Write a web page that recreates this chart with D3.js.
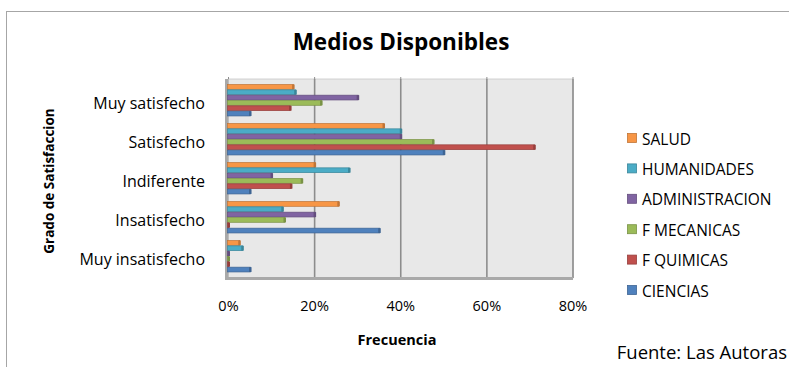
<!DOCTYPE html>
<html><head><meta charset="utf-8">
<script src="https://cdn.jsdelivr.net/npm/d3@7/dist/d3.min.js"></script>
<style>
body{margin:0;background:#fff;}
svg{display:block;font-family:"Open Sans",Lato,sans-serif;}
</style></head>
<body>
<script>
const categories = ["Muy satisfecho","Satisfecho","Indiferente","Insatisfecho","Muy insatisfecho"];
const seriesNames = ["SALUD","HUMANIDADES","ADMINISTRACION","F MECANICAS","F QUIMICAS","CIENCIAS"];
const seriesColors = ["#f79646","#4bacc6","#8064a2","#9bbb59","#c0504d","#4f81bd"];
// values per series, in order of categories (fractions)
const salud        = [0.15, 0.36, 0.20, 0.255, 0.025];
const humanidades  = [0.155,0.40, 0.28, 0.125, 0.032];
const administracion=[0.30, 0.40, 0.10, 0.20, 0.0];
const fMecanicas   = [0.215,0.475,0.17, 0.13, 0.0];
const fQuimicas    = [0.143,0.71, 0.145,0.0,  0.0];
const ciencias     = [0.05, 0.50, 0.05, 0.35, 0.05];
const seriesValues = [salud, humanidades, administracion, fMecanicas, fQuimicas, ciencias];
const xTicks = [0, 0.2, 0.4, 0.6, 0.8];

const W = 789, H = 367;
const svg = d3.select("body").append("svg").attr("width", W).attr("height", H);

// outer chart frame
svg.append("rect").attr("x",6.5).attr("y",11.5).attr("width",W).attr("height",H)
  .attr("fill","#fff").attr("stroke","#a6a6a6").attr("stroke-width",1);

// title
svg.append("text").attr("x",401).attr("y",50).attr("text-anchor","middle")
  .attr("font-size",22.5).attr("font-weight","bold").attr("fill","#000").text("Medios Disponibles");

const plotTop = 79, plotBottom = 278;
const x = d3.scaleLinear().domain([0,0.8]).range([228.5,573]);
const y = d3.scaleBand().domain(categories).range([81,276]).paddingInner(0.18).paddingOuter(0.09);
const yi = d3.scaleBand().domain(seriesNames).range([0,y.bandwidth()]).padding(0);

// back wall
svg.append("rect").attr("x",x(0)).attr("y",plotTop).attr("width",x(0.8)-x(0)).attr("height",plotBottom-plotTop)
  .attr("fill","#e8e8e8").attr("stroke","#c8c8c8").attr("stroke-width",0.8);
// gridlines
svg.append("g").selectAll("line").data(xTicks.slice(1)).join("line")
  .attr("x1",d=>x(d)).attr("x2",d=>x(d)).attr("y1",plotTop).attr("y2",plotBottom)
  .attr("stroke","#8c8c8c").attr("stroke-width",1.6);
// small ticks at top
svg.append("g").selectAll("line").data(xTicks).join("line")
  .attr("x1",d=>x(d)).attr("x2",d=>x(d)).attr("y1",plotTop-2).attr("y2",plotTop)
  .attr("stroke","#8c8c8c").attr("stroke-width",1);
// left wall
svg.append("rect").attr("x",x(0)-3.5).attr("y",plotTop).attr("width",3.5).attr("height",plotBottom-plotTop+1)
  .attr("fill","#a9a9a9");
// floor
svg.append("rect").attr("x",x(0)-3.5).attr("y",plotBottom-1).attr("width",x(0.8)-x(0)+3.5).attr("height",3)
  .attr("fill","#a9a9a9");

// bars
const darker = c => d3.color(c).darker(0.7).formatHex();
const groups = svg.append("g").selectAll("g").data(seriesNames).join("g");
groups.each(function(s, si){
  const g = d3.select(this);
  const vals = seriesValues[si];
  const col = seriesColors[si];
  const data = categories.map((c,ci)=>({c, v: vals[ci]}));
  const h = yi.bandwidth()*0.9;
  g.selectAll("rect.bar").data(data).join("rect").attr("class","bar")
    .attr("x",x(0)-1).attr("y",d=>y(d.c)+yi(s))
    .attr("width",d=>Math.max(0,x(d.v)-x(0))+1.5).attr("height",h)
    .attr("fill",col).attr("stroke",darker(col)).attr("stroke-width",0.7);
  g.selectAll("rect.cap").data(data).join("rect").attr("class","cap")
    .attr("x",d=>x(d.v)-1).attr("y",d=>y(d.c)+yi(s))
    .attr("width",2.5).attr("height",h)
    .attr("fill",darker(col));
});

// category labels
svg.append("g").selectAll("text").data(categories).join("text")
  .attr("x",205).attr("y",d=>y(d)+y.bandwidth()/2+2.5).attr("dominant-baseline","central")
  .attr("text-anchor","end")
  .attr("font-size",16).attr("fill","#000").text(d=>d);

// x tick labels
svg.append("g").selectAll("text").data(xTicks).join("text")
  .attr("x",d=>x(d)).attr("y",305).attr("dominant-baseline","central").attr("text-anchor","middle")
  .attr("font-size",14.5).attr("fill","#000").text(d=>d3.format(".0%")(d));

// axis titles
svg.append("text").attr("x",397).attr("y",339).attr("dominant-baseline","central").attr("text-anchor","middle")
  .attr("font-size",14.5).attr("font-weight","bold").text("Frecuencia");
svg.append("text").attr("transform","translate(49,181) rotate(-90)").attr("dominant-baseline","central")
  .attr("text-anchor","middle")
  .attr("font-size",13.5).attr("font-weight","bold").text("Grado de Satisfaccion");

// source
svg.append("text").attr("x",787).attr("y",351).attr("dominant-baseline","central").attr("text-anchor","end")
  .attr("font-size",18.5).text("Fuente: Las Autoras");

// legend
const lg = svg.append("g").selectAll("g").data(seriesNames).join("g")
  .attr("transform",(d,i)=>`translate(627,${138 + i*30.4})`);
lg.append("rect").attr("x",0.5).attr("y",-4.5).attr("width",9).attr("height",9)
  .attr("fill",(d,i)=>seriesColors[i]).attr("stroke",(d,i)=>darker(seriesColors[i])).attr("stroke-width",0.8);
lg.append("text").attr("x",15).attr("y",0.5).attr("dominant-baseline","central")
  .attr("font-size",15.5).text(d=>d);
</script>
</body></html>
